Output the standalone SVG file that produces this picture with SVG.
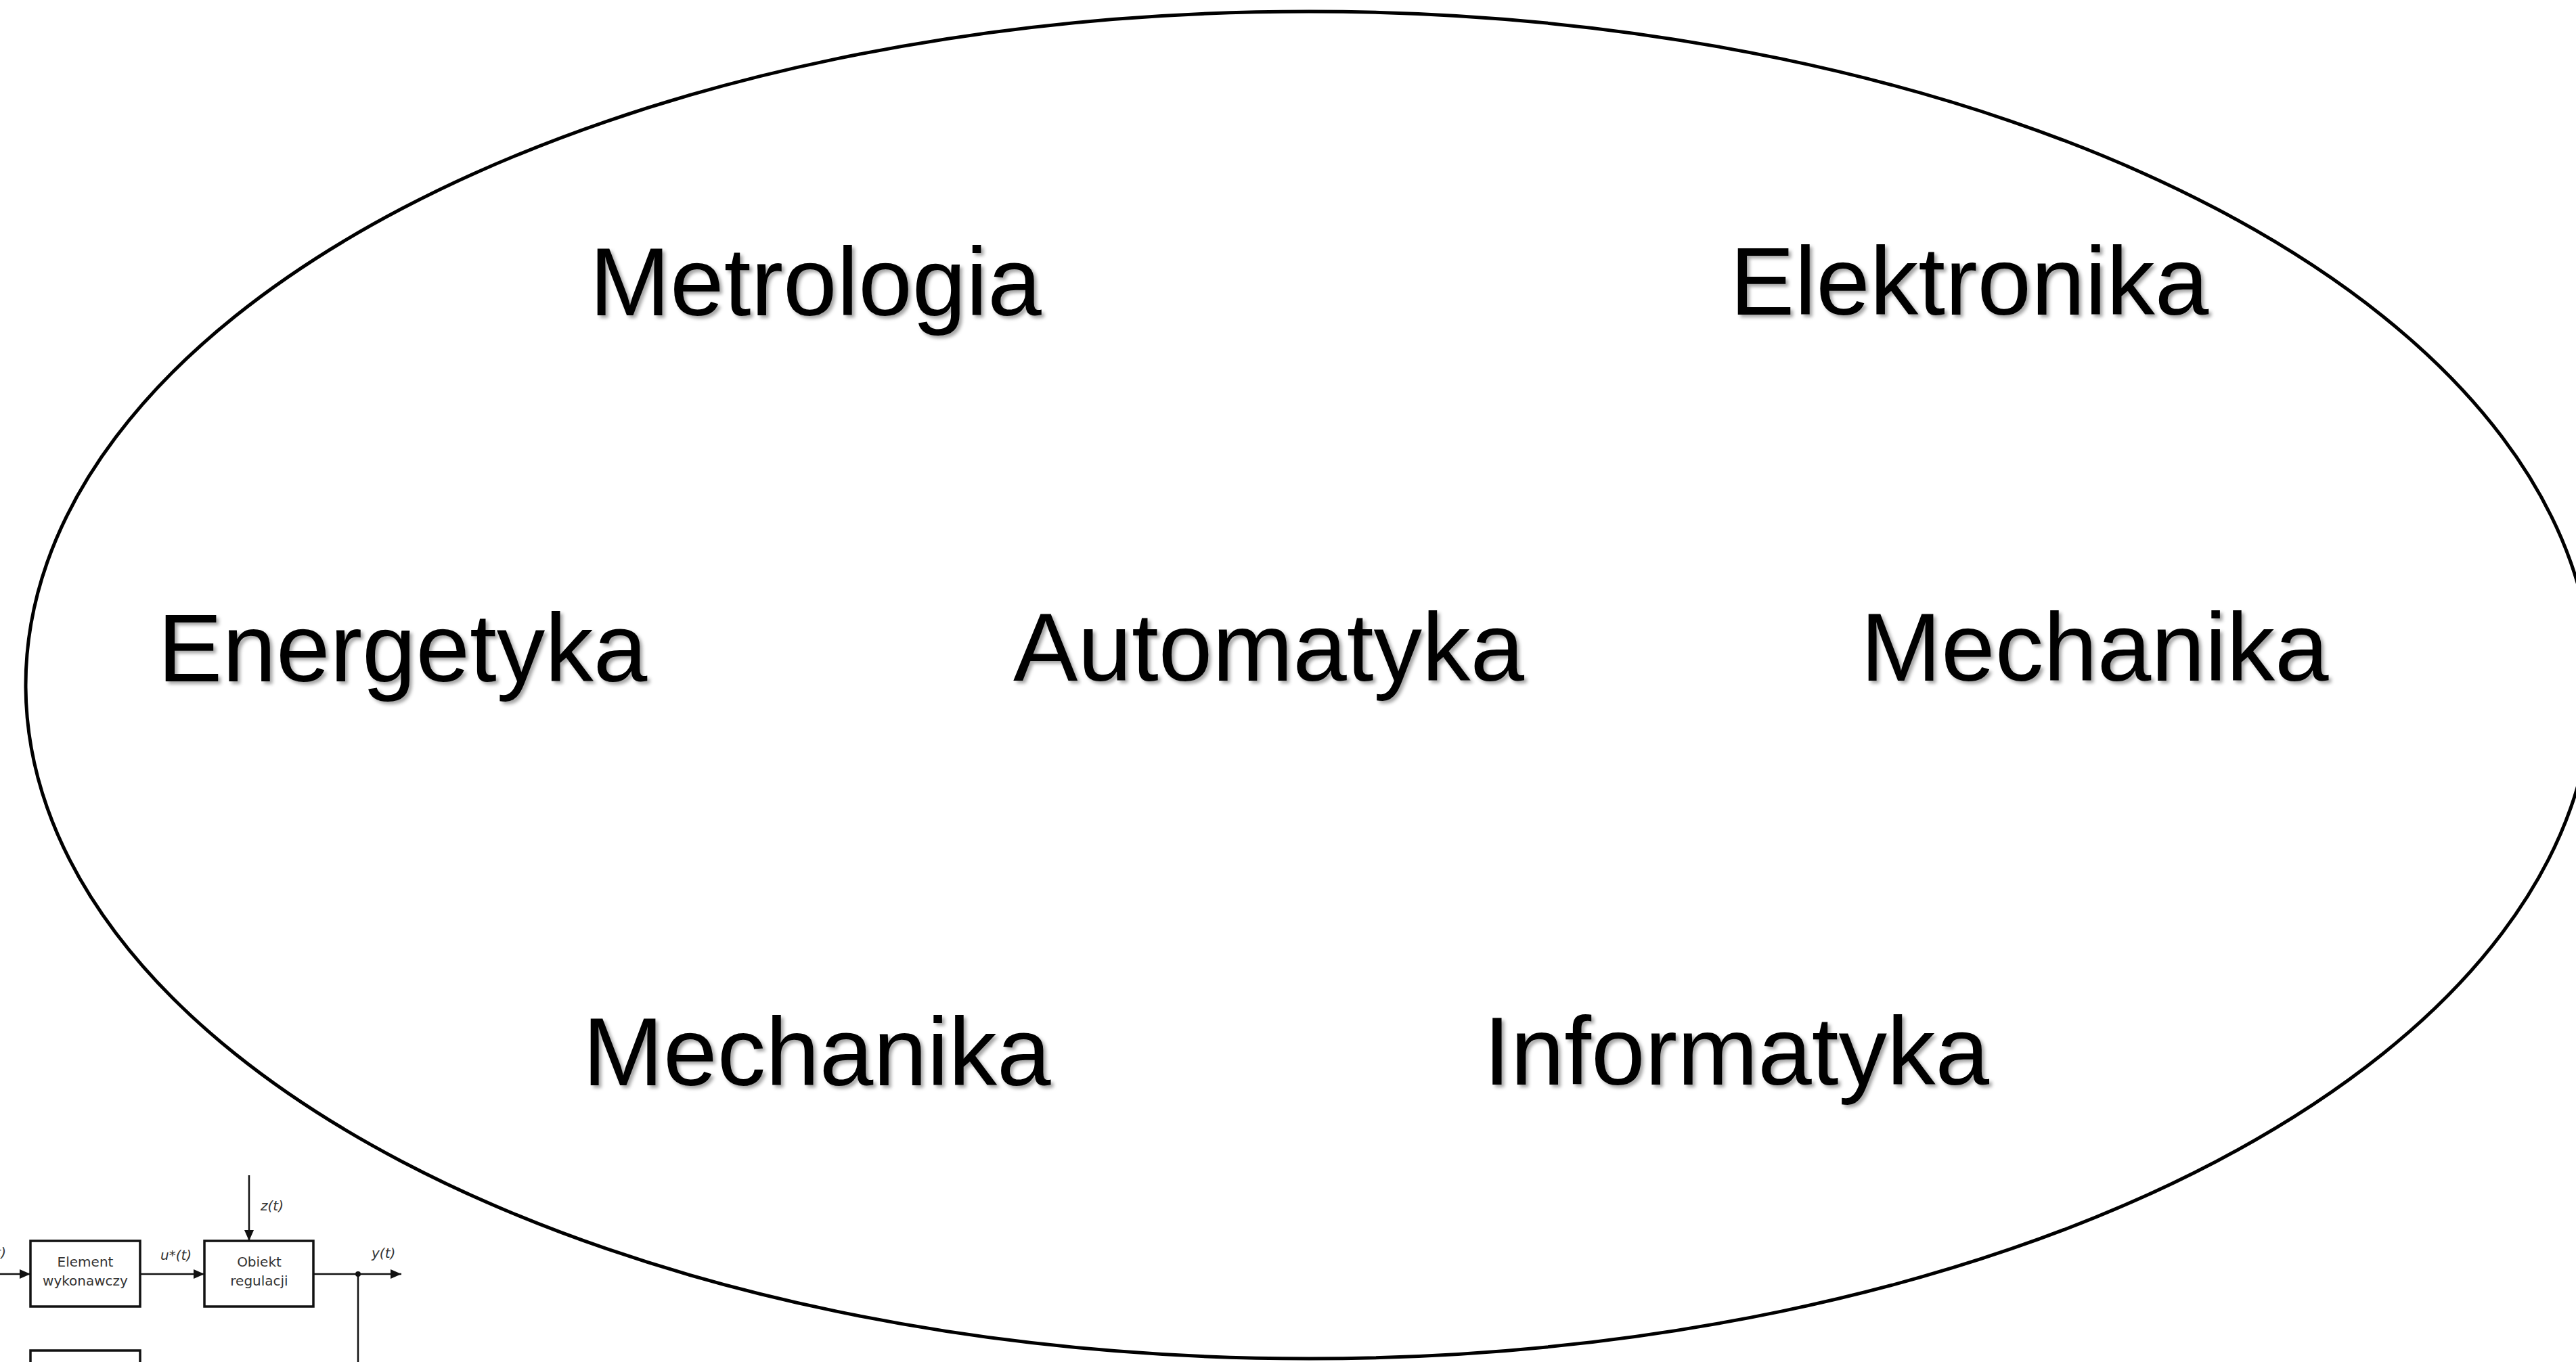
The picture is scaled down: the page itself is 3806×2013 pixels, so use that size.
<svg xmlns="http://www.w3.org/2000/svg" width="3806" height="2013" viewBox="0 0 3806 2013">
  <style>
    .field { font-family: "Liberation Sans", Arial, sans-serif; font-size: 143px; fill: #000; }
    .blk { fill: #fff; stroke: #111; stroke-width: 3.5; }
    .blk-text { font-family: "DejaVu Sans", sans-serif; font-size: 20px; fill: #333; text-anchor: middle; }
    .sig { font-family: "DejaVu Sans", sans-serif; font-size: 20px; font-style: italic; fill: #333; }
    .wire { fill: none; stroke: #111; stroke-width: 2.5; }
  </style>
  <defs>
    <filter id="soft-shadow" x="-5%" y="-20%" width="110%" height="140%">
      <feDropShadow dx="4" dy="4" stdDeviation="2.5" flood-color="#000" flood-opacity="0.35"/>
    </filter>
    <marker id="arrow" viewBox="0 0 16 14" refX="16" refY="7" markerWidth="16" markerHeight="14" markerUnits="userSpaceOnUse" orient="auto">
      <path d="M0,0 L16,7 L0,14 Z" fill="#111"/>
    </marker>
  </defs>

  <rect width="3806" height="2013" fill="#fff"/>

  <!-- control loop fragment, bottom left -->
  <g id="block-element">
    <rect class="blk" x="45" y="1834" width="162" height="97"/>
    <text class="blk-text" x="126" y="1872">Element</text>
    <text class="blk-text" x="126" y="1900">wykonawczy</text>
  </g>
  <g id="block-obiekt">
    <rect class="blk" x="302" y="1834" width="161" height="97"/>
    <text class="blk-text" x="383" y="1872">Obiekt</text>
    <text class="blk-text" x="383" y="1900">regulacji</text>
  </g>
  <g id="block-lower">
    <rect class="blk" x="45" y="1996" width="162" height="40"/>
  </g>
  <g id="connectors">
    <line class="wire" x1="-5" y1="1883" x2="45" y2="1883" marker-end="url(#arrow)"/>
    <line class="wire" x1="207" y1="1883" x2="302" y2="1883" marker-end="url(#arrow)"/>
    <line class="wire" x1="368" y1="1737" x2="368" y2="1834" marker-end="url(#arrow)"/>
    <line class="wire" x1="463" y1="1883" x2="593" y2="1883" marker-end="url(#arrow)"/>
    <line class="wire" x1="529" y1="1883" x2="529" y2="2020"/>
    <circle cx="529" cy="1883" r="4" fill="#111"/>
  </g>
  <g id="signal-labels">
    <text class="sig" x="9" y="1858" text-anchor="end">u(t)</text>
    <text class="sig" x="237" y="1862">u*(t)</text>
    <text class="sig" x="385" y="1789">z(t)</text>
    <text class="sig" x="549" y="1859">y(t)</text>
  </g>

  <!-- surrounding ellipse -->
  <g id="scope">
    <ellipse cx="1934" cy="1012.5" rx="1896" ry="995.5" fill="none" stroke="#000" stroke-width="5"/>
  </g>

  <!-- field names -->
  <g filter="url(#soft-shadow)">
    <g id="metrologia"><text class="field" x="871" y="466">Metrologia</text></g>
    <g id="elektronika"><text class="field" x="2556" y="465">Elektronika</text></g>
    <g id="energetyka"><text class="field" x="233" y="1007">Energetyka</text></g>
    <g id="automatyka"><text class="field" x="1497" y="1006">Automatyka</text></g>
    <g id="mechanika-right"><text class="field" x="2749" y="1006">Mechanika</text></g>
    <g id="mechanika-bottom"><text class="field" x="861" y="1604">Mechanika</text></g>
    <g id="informatyka"><text class="field" x="2192" y="1603">Informatyka</text></g>
  </g>
</svg>
